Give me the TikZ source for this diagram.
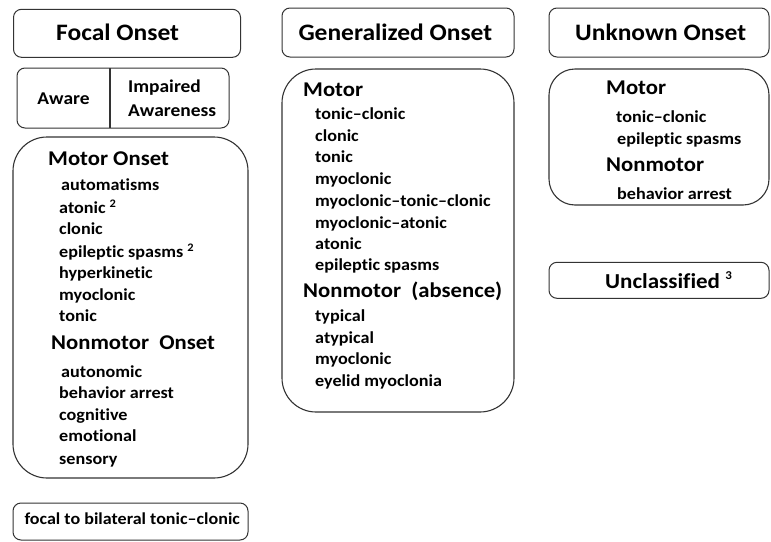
\documentclass[tikz,border=0pt]{standalone}
\usepackage{fontspec}
\setmainfont{Carlito}[FakeStretch=1.08, Ligatures=NoCommon]
\begin{document}
\begin{tikzpicture}[x=1pt,y=-1pt,
  frame/.style={draw=black!80, line width=1pt, rounded corners=8pt, inner sep=0pt},
  bigframe/.style={draw=black!80, line width=1.1pt, rounded corners=34pt, inner sep=0pt},
  title/.style={anchor=base west, inner sep=0pt, font=\fontsize{23.6}{28}\selectfont\bfseries},
  head/.style={anchor=west, inner sep=0pt, text height=16pt, text depth=3pt, font=\fontsize{21}{25}\selectfont\bfseries},
  item/.style={anchor=west, inner sep=0pt, text height=13pt, text depth=3pt, font=\fontsize{16.8}{20}\selectfont\bfseries},
  awtext/.style={inner sep=0pt, font=\fontsize{18}{22}\selectfont\bfseries}]
\useasboundingbox (0,0) rectangle (771,541);
% Top title boxes
\node[frame, minimum width=227pt, minimum height=48pt] (focal) at (127,33.3) {};
\node[title] (focalt) at (56,40.7) {Focal Onset};
\node[frame, minimum width=232pt, minimum height=49pt] (gen) at (398,32.5) {};
\node[title] (gent) at (298.3,40.7) {Generalized Onset};
\node[frame, minimum width=220pt, minimum height=49pt] (unk) at (659,32.5) {};
\node[title] (unkt) at (575,40.3) {Unknown Onset};
% Aware box
\node[frame, minimum width=212pt, minimum height=60pt] (aw) at (123,98) {};
\coordinate (dtop) at (110,68);
\coordinate (dbot) at (110,128);
\draw[black!80, line width=1.2pt] (dtop) -- (dbot);
\node[awtext, anchor=base] (aware) at (63.5,104) {Aware};
\node[awtext, anchor=base west] (imp1) at (128,92.5) {Impaired};
\node[awtext, anchor=base west] (imp2) at (128,116.5) {Awareness};
% Focal big box
\node[bigframe, minimum width=235pt, minimum height=341pt] (fbox) at (130.5,307.5) {};
\node[head] (fmotor) at (48,159) {Motor Onset};
\node[item] (f1) at (61,185) {automatisms};
\node[item] (f2) at (59,208) {atonic \raisebox{0.35em}{\fontsize{11.5}{13}\selectfont 2}};
\node[item] (f3) at (59,229) {clonic};
\node[item] (f4) at (59,252) {epileptic spasms \raisebox{0.35em}{\fontsize{11.5}{13}\selectfont 2}};
\node[item] (f5) at (59,273) {hyperkinetic};
\node[item] (f6) at (59,295) {myoclonic};
\node[item] (f7) at (59,316) {tonic};
\node[head] (fnon) at (51,343) {Nonmotor\ \ Onset};
\node[item] (f8) at (61,372) {autonomic};
\node[item] (f9) at (59,393) {behavior arrest};
\node[item] (f10) at (59,415) {cognitive};
\node[item] (f11) at (59,436) {emotional};
\node[item] (f12) at (59,459) {sensory};
% focal to bilateral
\node[frame, minimum width=235pt, minimum height=37pt] (fbil) at (130.5,521.5) {};
\node[anchor=base west, inner sep=0pt, font=\fontsize{16.7}{20}\selectfont\bfseries] (fbilt) at (24.3,524) {focal to bilateral tonic–clonic};
% Generalized big box
\node[bigframe, minimum width=232pt, minimum height=343pt] (gbox) at (398,240.5) {};
\node[head] (gmotor) at (303,90) {Motor};
\node[item] (g1) at (315,114) {tonic–clonic};
\node[item] (g2) at (315,136) {clonic};
\node[item] (g3) at (315,157) {tonic};
\node[item] (g4) at (315,179) {myoclonic};
\node[item] (g5) at (315,201) {myoclonic–tonic–clonic};
\node[item] (g6) at (315,223) {myoclonic–atonic};
\node[item] (g7) at (315,244) {atonic};
\node[item] (g8) at (315,265) {epileptic spasms};
\node[head] (gnon) at (303,291) {Nonmotor\ \ (absence)};
\node[item] (g9) at (315,316) {typical};
\node[item] (g10) at (315,338) {atypical};
\node[item] (g11) at (315,359) {myoclonic};
\node[item] (g12) at (315,381) {eyelid myoclonia};
% Unknown big box
\node[bigframe, rounded corners=26pt, minimum width=220pt, minimum height=136pt] (ubox) at (659,137) {};
\node[head] (umotor) at (606,88) {Motor};
\node[item] (u1) at (616,117) {tonic–clonic};
\node[item] (u2) at (617,139) {epileptic spasms};
\node[head] (unon) at (606,165) {Nonmotor};
\node[item] (u3) at (617,194) {behavior arrest};
% Unclassified
\node[frame, minimum width=220pt, minimum height=36pt] (uncl) at (659,280.3) {};
\node[anchor=base west, inner sep=0pt, font=\fontsize{21.3}{25}\selectfont\bfseries] (unclt) at (605,288.3) {Unclassified \raisebox{0.4em}{\fontsize{12}{14}\selectfont 3}};
\end{tikzpicture}
\end{document}
